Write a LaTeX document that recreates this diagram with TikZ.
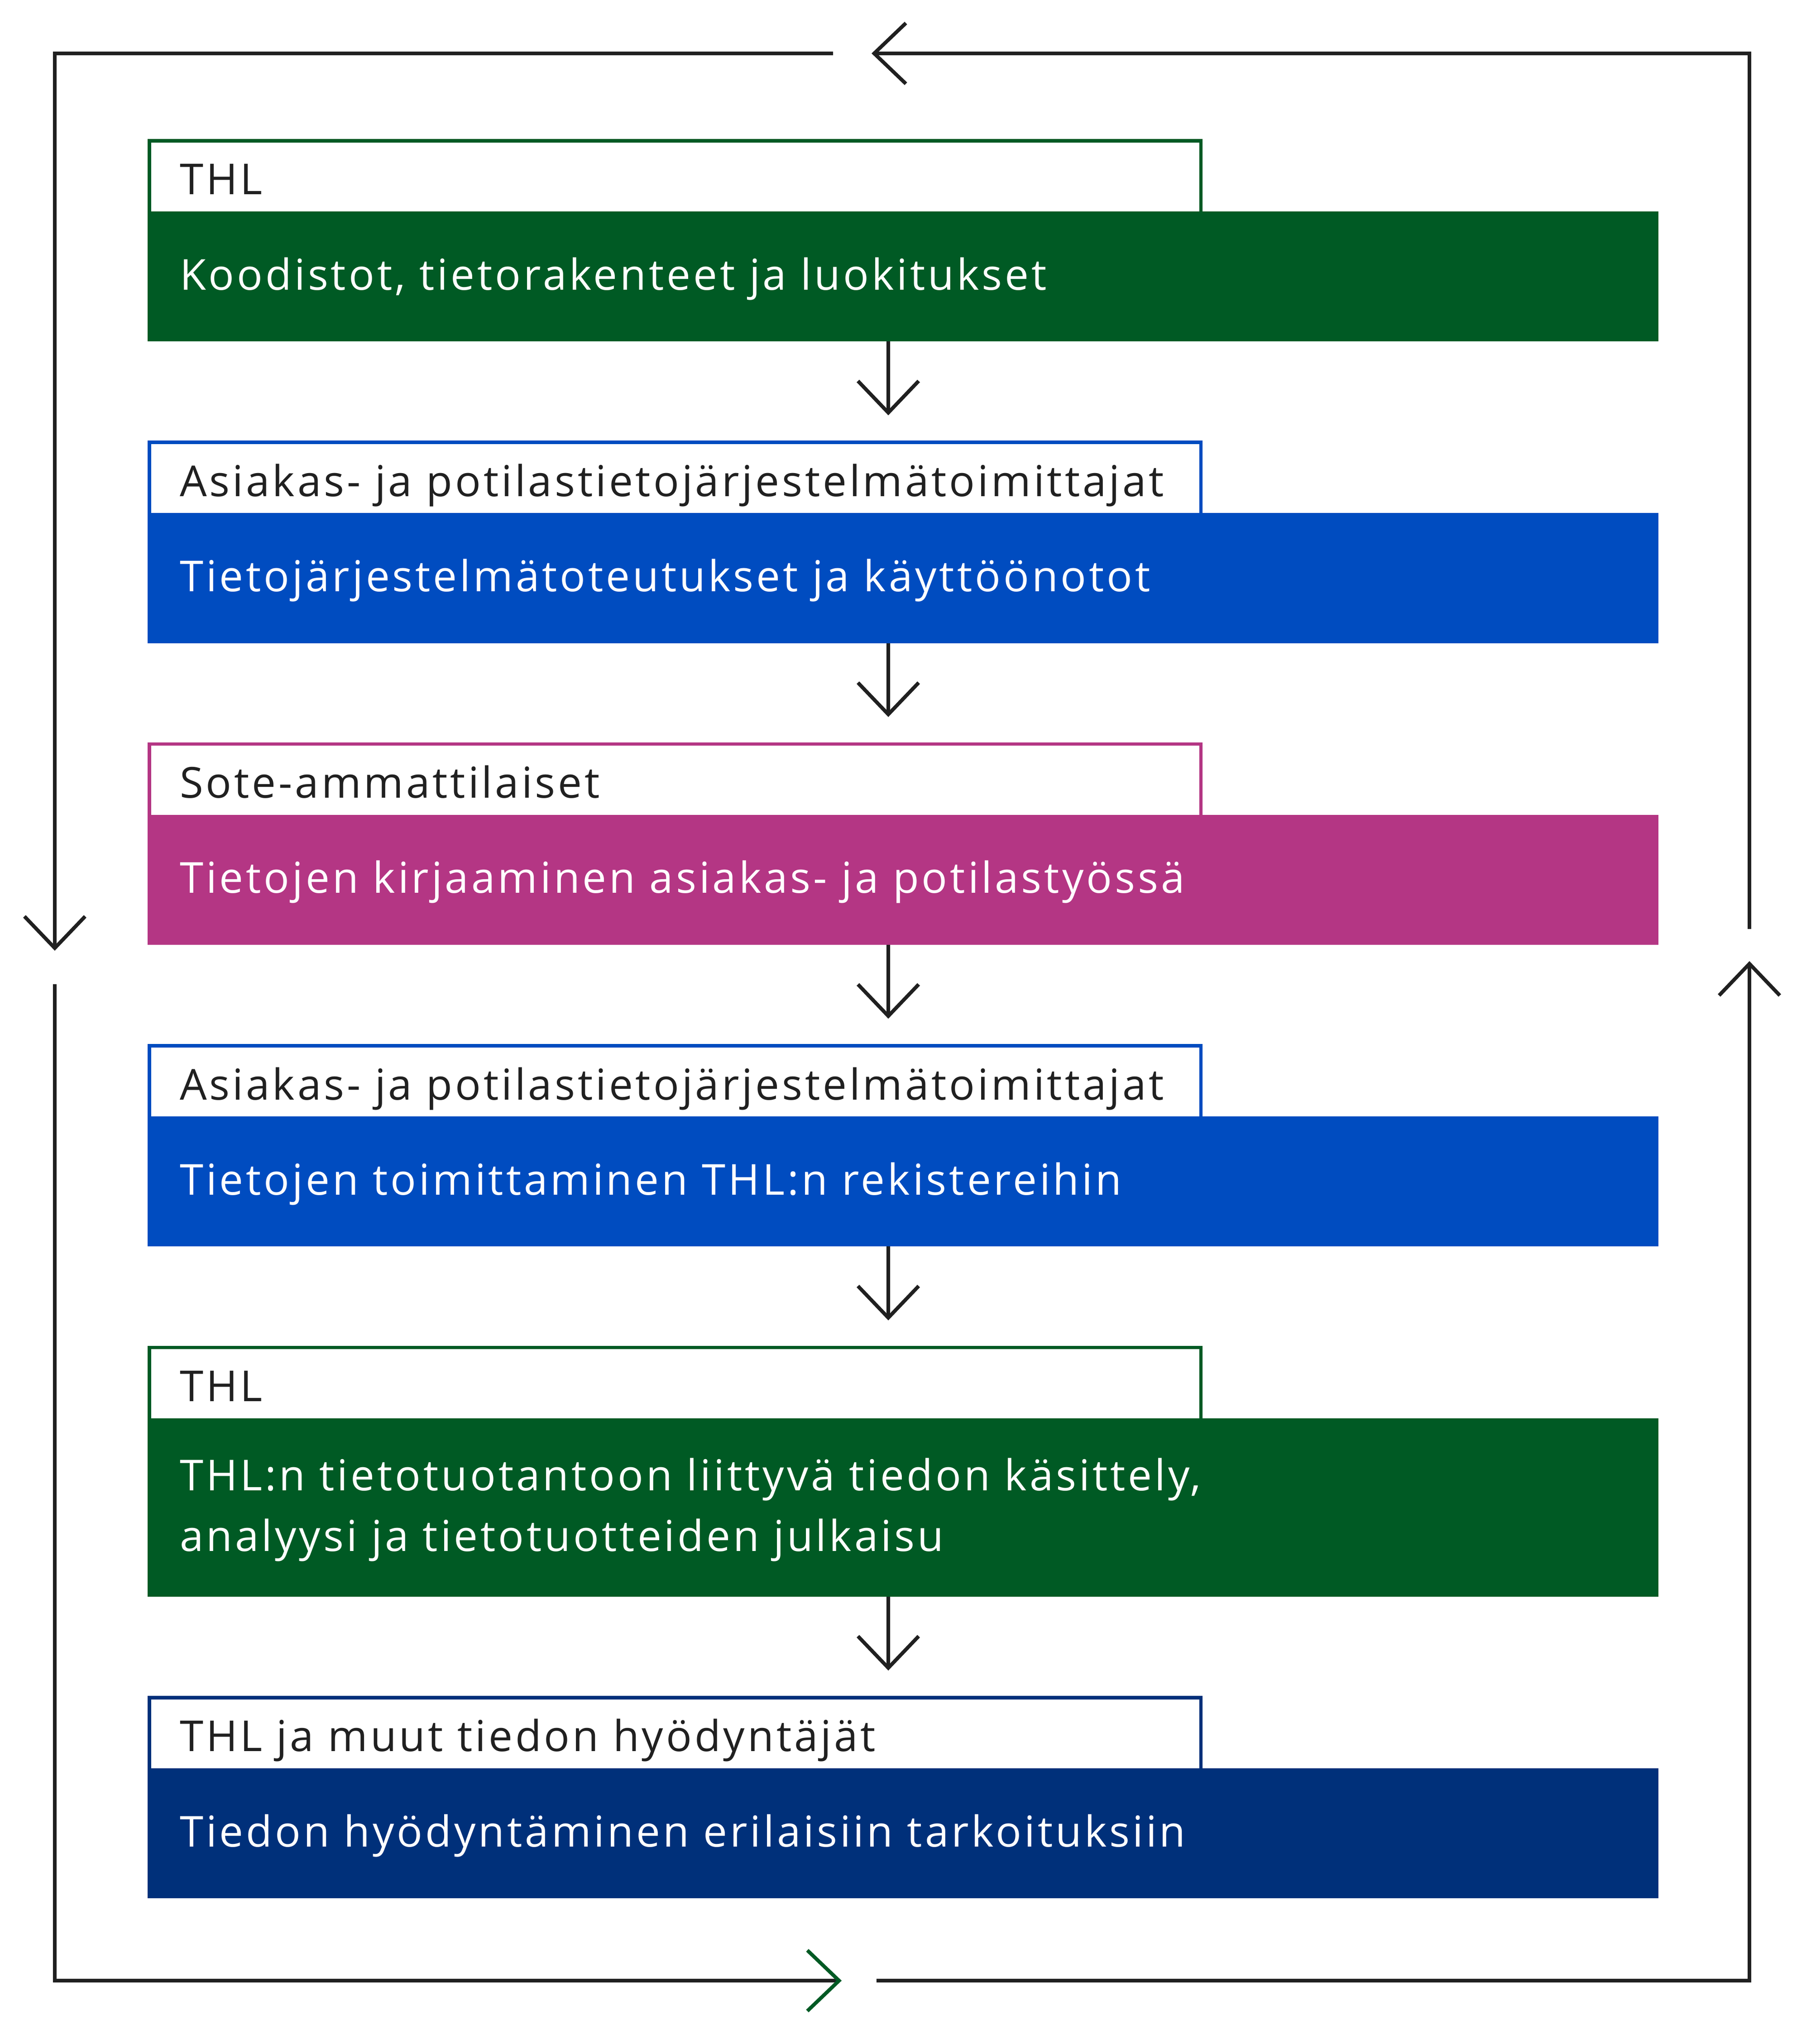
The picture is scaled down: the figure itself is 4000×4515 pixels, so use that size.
\documentclass[tikz,border=0pt]{standalone}
\usepackage{fontspec}
\setmainfont{Open Sans}[LetterSpace=6.3]
\usepackage{xcolor}
\usepackage{tikz}
\usetikzlibrary{calc}
\usetikzlibrary{positioning}
\usetikzlibrary{arrows.meta}

\definecolor{thlgreen}{RGB}{0,90,36}
\definecolor{thlblue}{RGB}{0,76,192}
\definecolor{thlpink}{RGB}{180,54,132}
\definecolor{thlnavy}{RGB}{0,48,122}
\definecolor{ink}{RGB}{32,32,32}

\begin{document}
\begin{tikzpicture}[x=0.01cm,y=-0.01cm,font=\fontsize{26.8}{38.1}\selectfont,
	hdr/.style={draw=#1,line width=0.075cm,fill=white,text=ink,align=left,text width=21.87cm,minimum height=1.6cm,inner xsep=0.6725cm,inner ysep=0pt,text height=1.19cm,text depth=0.41cm},
	bar/.style={fill=#1,text=white,align=left,text width=31.93cm,minimum height=2.87cm,inner xsep=0.71cm,inner ysep=0pt,outer sep=0pt,text height=1.73cm,text depth=1.14cm},
	flow/.style={draw=ink,line width=0.08cm,-{Straight Barb[length=0.7cm,width=1.34cm]}}]
	\useasboundingbox[fill=white] (0,0) rectangle (4000,4515);
	
	\node[hdr=thlgreen,anchor=north west] (h1) at (326,307) {THL};
	\node[bar=thlgreen,below=-0.075cm of h1.south west,anchor=north west] (b1) {Koodistot, tietorakenteet ja luokitukset};
	
	\node[hdr=thlblue,below=2.19cm of b1.south west,anchor=north west] (h2) {Asiakas- ja potilastietojärjestelmätoimittajat};
	\node[bar=thlblue,below=-0.075cm of h2.south west,anchor=north west] (b2) {Tietojärjestelmätoteutukset ja käyttöönotot};
	
	\node[hdr=thlpink,below=2.19cm of b2.south west,anchor=north west] (h3) {Sote-ammattilaiset};
	\node[bar=thlpink,below=-0.075cm of h3.south west,anchor=north west] (b3) {Tietojen kirjaaminen asiakas- ja potilastyössä};
	
	\node[hdr=thlblue,below=2.19cm of b3.south west,anchor=north west] (h4) {Asiakas- ja potilastietojärjestelmätoimittajat};
	\node[bar=thlblue,below=-0.075cm of h4.south west,anchor=north west] (b4) {Tietojen toimittaminen THL:n rekistereihin};
	
	\node[hdr=thlgreen,below=2.19cm of b4.south west,anchor=north west] (h5) {THL};
	\node[bar=thlgreen,below=-0.075cm of h5.south west,anchor=north west,minimum height=3.94cm,text height=1.6cm,text depth=2.34cm] (b5) {THL:n tietotuotantoon liittyvä tiedon käsittely,\\analyysi ja tietotuotteiden julkaisu};
	
	\node[hdr=thlnavy,below=2.19cm of b5.south west,anchor=north west] (h6) {THL ja muut tiedon hyödyntäjät};
	\node[bar=thlnavy,below=-0.075cm of h6.south west,anchor=north west] (b6) {Tiedon hyödyntäminen erilaisiin tarkoituksiin};
	
	% arrows between the steps
	\coordinate (ax) at (1962,0);
	\foreach \a/\b in {b1/h2,b2/h3,b3/h4,b4/h5,b5/h6}
		\draw[flow] (\a.south -| ax) -- ($(\b.north -| ax)+(0,-56)$);
	
	% the loop round everything
	\coordinate (tl) at (121,118);
	\coordinate (tr) at (3864,118);
	\coordinate (bl) at (121,4375);
	\coordinate (br) at (3864,4375);
	\coordinate (toptip) at (1925,118);
	\coordinate (topgap) at (1840,118);
	\coordinate (lefttip) at (121,2100);
	\coordinate (leftgap) at (121,2174);
	\coordinate (bottip) at (1859,4375);
	\coordinate (botgap) at (1936,4375);
	\coordinate (righttip) at (3864,2123);
	\coordinate (rightgap) at (3864,2052);
	
	\draw[flow] (rightgap) -- (tr) -- (toptip);
	\draw[flow] (topgap) -- (tl) -- (lefttip);
	\draw[flow,-{Straight Barb[length=0.7cm,width=1.34cm,color=thlgreen]}] (leftgap) -- (bl) -- (bottip);
	\draw[flow] (botgap) -- (br) -- (righttip);
	
\end{tikzpicture}
\end{document}
